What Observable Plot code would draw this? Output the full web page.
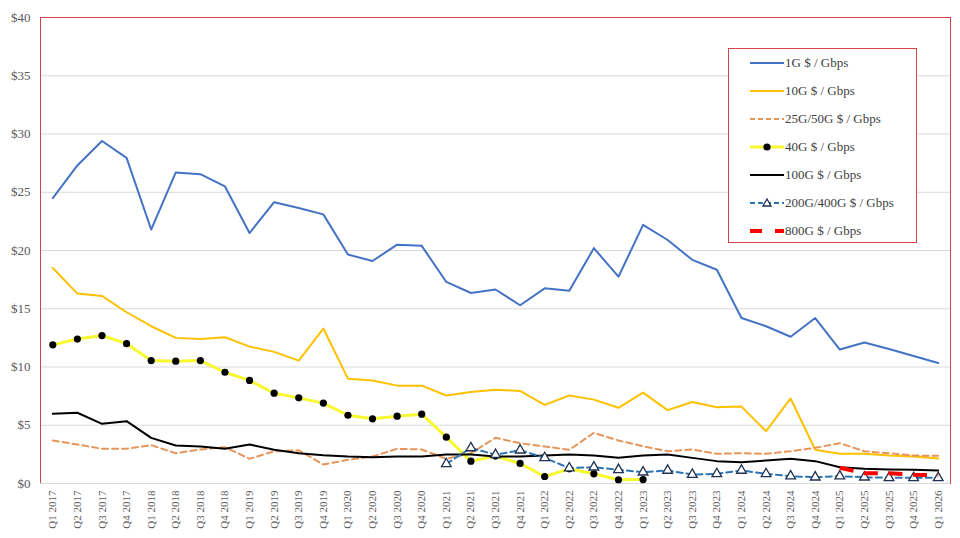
<!DOCTYPE html>
<html>
<head>
<meta charset="utf-8">
<script src="https://cdn.jsdelivr.net/npm/d3@7"></script>
<script src="https://cdn.jsdelivr.net/npm/@observablehq/plot@0.6"></script>
<style>
  html, body { margin: 0; padding: 0; background: white; }
  #wrap { position: relative; width: 960px; height: 538px; }
  #legend { position: absolute; left: 728px; top: 48px; width: 189px; height: 195px;
    border: 1px solid #D64545; background: white; box-sizing: border-box;
    font-family: "Liberation Serif", serif; font-size: 13px; color: #404040; }
  .row { position: absolute; left: 21px; height: 16px; display: flex; align-items: center; }
  .row svg { display: block; margin-right: 1px; }
</style>
</head>
<body>
<div id="wrap"><div id="legend"></div></div>
<script>
const quarters = [
  "Q1 2017","Q2 2017","Q3 2017","Q4 2017",
  "Q1 2018","Q2 2018","Q3 2018","Q4 2018",
  "Q1 2019","Q2 2019","Q3 2019","Q4 2019",
  "Q1 2020","Q2 2020","Q3 2020","Q4 2020",
  "Q1 2021","Q2 2021","Q3 2021","Q4 2021",
  "Q1 2022","Q2 2022","Q3 2022","Q4 2022",
  "Q1 2023","Q2 2023","Q3 2023","Q4 2023",
  "Q1 2024","Q2 2024","Q3 2024","Q4 2024",
  "Q1 2025","Q2 2025","Q3 2025","Q4 2025",
  "Q1 2026"
];

const g1 = [24.5, 27.3, 29.4, 27.95, 21.8, 26.7, 26.55, 25.5, 21.5, 24.15, 23.65, 23.1,
  19.65, 19.1, 20.5, 20.4, 17.3, 16.35, 16.65, 15.3, 16.75, 16.55, 20.2, 17.75,
  22.2, 20.9, 19.2, 18.35, 14.2, 13.5, 12.6, 14.2, 11.5, 12.1, 11.55, 10.95, 10.35];

const g10 = [18.5, 16.3, 16.1, 14.7, 13.5, 12.5, 12.4, 12.55, 11.75, 11.3, 10.55, 13.3,
  9.0, 8.85, 8.4, 8.4, 7.55, 7.85, 8.05, 7.95, 6.75, 7.55, 7.2, 6.5,
  7.8, 6.3, 7.0, 6.55, 6.6, 4.5, 7.3, 2.9, 2.55, 2.55, 2.4, 2.32, 2.15];

const g25 = [3.69, 3.35, 2.98, 2.98, 3.29, 2.6, 2.92, 3.12, 2.12, 2.77, 2.85, 1.63,
  2.03, 2.32, 2.98, 2.92, 2.12, 2.6, 3.92, 3.46, 3.18, 2.89, 4.35, 3.69,
  3.2, 2.77, 2.92, 2.55, 2.6, 2.55, 2.77, 3.06, 3.46, 2.77, 2.6, 2.4, 2.38];

const g40 = [11.9, 12.4, 12.7, 12.0, 10.55, 10.5, 10.55, 9.55, 8.85, 7.75, 7.35, 6.9,
  5.86, 5.55, 5.78, 5.95, 3.98, 1.92, 2.35, 1.72, 0.6, 1.26, 0.83, 0.32,
  0.34, null, null, null, null, null, null, null, null, null, null, null, null];

const g100 = [5.98, 6.07, 5.12, 5.35, 3.92, 3.26, 3.18, 2.98, 3.35, 2.89, 2.6, 2.43,
  2.32, 2.26, 2.32, 2.32, 2.49, 2.49, 2.32, 2.32, 2.4, 2.49, 2.4, 2.2,
  2.4, 2.49, 2.2, 1.92, 1.83, 1.97, 2.12, 1.92, 1.4, 1.26, 1.2, 1.18, 1.12];

const g200 = [null, null, null, null, null, null, null, null, null, null, null, null,
  null, null, null, null, 1.69, 3.05, 2.47, 2.86, 2.2, 1.32, 1.4, 1.18,
  0.97, 1.12, 0.77, 0.83, 1.12, 0.83, 0.63, 0.54, 0.63, 0.54, 0.49, 0.49, 0.49];

const g800 = [null, null, null, null, null, null, null, null, null, null, null, null,
  null, null, null, null, null, null, null, null, null, null, null, null,
  null, null, null, null, null, null, null, null, 1.35, 0.89, 0.89, 0.75, 0.7];

const yTicks = [0, 5, 10, 15, 20, 25, 30, 35, 40];

const seriesNames = ["1G $ / Gbps", "10G $ / Gbps", "25G/50G $ / Gbps", "40G $ / Gbps",
  "100G $ / Gbps", "200G/400G $ / Gbps", "800G $ / Gbps"];

const rows = arr => quarters.map((q, i) => ({i, v: arr[i]})).filter(d => d.v != null);

const C1 = "#4472C4", C10 = "#FFC000", C25 = "#E8955A", C40 = "#F8F830",
      C100 = "#000000", C200 = "#2E75B6", C800 = "#FF0000";

const chart = Plot.plot({
  width: 960,
  height: 538,
  marginLeft: 40,
  marginRight: 10,
  marginTop: 17,
  marginBottom: 55,
  style: {fontFamily: "Liberation Serif, serif", fontSize: "13px", background: "white", color: "#595959"},
  x: {type: "linear", domain: [-0.5, quarters.length - 0.5], label: null},
  y: {domain: [0, 40], label: null},
  marks: [
    Plot.gridY(yTicks.filter(t => t > 0 && t < 40), {stroke: "#d9d9d9", strokeOpacity: 1}),
    Plot.frame({stroke: "#D64545", strokeWidth: 1}),
    Plot.ruleY([0], {stroke: "#d9d9d9", strokeWidth: 1.2}),
    Plot.axisY({ticks: yTicks, tickSize: 0, tickPadding: 10, tickFormat: d => "$" + d, fill: "#595959", fontSize: 13}),
    Plot.axisX({ticks: d3.range(quarters.length), tickFormat: i => quarters[i], tickSize: 0, tickPadding: 7, tickRotate: -90, fill: "#595959", fontSize: 11}),
    Plot.line(rows(g1), {x: "i", y: "v", stroke: C1, strokeWidth: 2}),
    Plot.line(rows(g10), {x: "i", y: "v", stroke: C10, strokeWidth: 2}),
    Plot.line(rows(g25), {x: "i", y: "v", stroke: C25, strokeWidth: 2, strokeDasharray: "6,4"}),
    Plot.line(rows(g40), {x: "i", y: "v", stroke: C40, strokeWidth: 3}),
    Plot.dot(rows(g40), {x: "i", y: "v", r: 3.6, fill: "black", stroke: "none"}),
    Plot.line(rows(g100), {x: "i", y: "v", stroke: C100, strokeWidth: 2}),
    Plot.line(rows(g200), {x: "i", y: "v", stroke: C200, strokeWidth: 2, strokeDasharray: "6,4"}),
    Plot.dot(rows(g200), {x: "i", y: "v", symbol: "triangle", r: 3.6, fill: "white", stroke: "#1f3050", strokeWidth: 1.3}),
    Plot.line(rows(g800), {x: "i", y: "v", stroke: C800, strokeWidth: 4, strokeDasharray: "14,10.6", strokeLinecap: "butt"})
  ]
});

const wrap = document.getElementById("wrap");
wrap.insertBefore(chart, wrap.firstChild);

// Legend
const legendStyles = [
  {stroke: C1, w: 2, dash: null, marker: null},
  {stroke: C10, w: 2, dash: null, marker: null},
  {stroke: C25, w: 2, dash: "5,3", marker: null},
  {stroke: C40, w: 3, dash: null, marker: "dot"},
  {stroke: C100, w: 2, dash: null, marker: null},
  {stroke: C200, w: 2, dash: "5,3", marker: "tri"},
  {stroke: C800, w: 4, dash: "12,13", marker: null}
];
const legend = document.getElementById("legend");
seriesNames.forEach((name, i) => {
  const s = legendStyles[i];
  const row = document.createElement("div");
  row.className = "row";
  row.style.top = (6 + i * 28) + "px";
  let marker = "";
  if (s.marker === "dot") marker = '<circle cx="17" cy="8" r="3.6" fill="black"/>';
  if (s.marker === "tri") marker = '<path d="M17,4 L21,11 L13,11 Z" fill="white" stroke="#1f3050" stroke-width="1.3"/>';
  row.innerHTML = '<svg width="34" height="16"><line x1="0" y1="8" x2="34" y2="8" stroke="' + s.stroke +
    '" stroke-width="' + s.w + '"' + (s.dash ? ' stroke-dasharray="' + s.dash + '"' : '') + '/>' + marker +
    '</svg><span>' + name + '</span>';
  legend.appendChild(row);
});
</script>
</body>
</html>
